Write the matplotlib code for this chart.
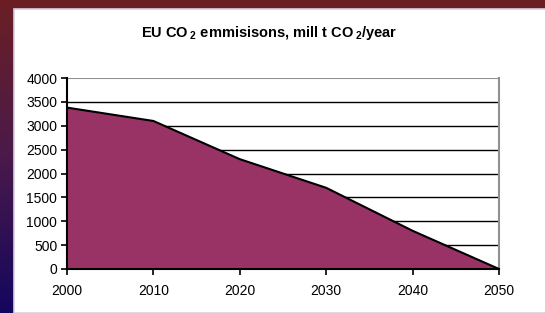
import numpy as np
import matplotlib.pyplot as plt
from matplotlib.colors import LinearSegmentedColormap
from matplotlib.patches import Rectangle

years = [2000, 2010, 2020, 2030, 2040, 2050]
emissions = [3380, 3100, 2300, 1700, 800, 0]
yticks = [0, 500, 1000, 1500, 2000, 2500, 3000, 3500, 4000]

plt.rcParams['font.family'] = ['Liberation Sans', 'DejaVu Sans']
plt.rcParams['mathtext.fontset'] = 'custom'
plt.rcParams['mathtext.default'] = 'regular'

fig = plt.figure(figsize=(5.45, 3.13), dpi=100)

# slide background gradient
bg = fig.add_axes([0, 0, 1, 1])
cmap = LinearSegmentedColormap.from_list('bg', ['#6b1f24', '#4a1a4a', '#14065e'])
bg.imshow(np.linspace(0, 1, 256).reshape(-1, 1), aspect='auto', cmap=cmap,
          extent=[0, 1, 0, 1], origin='upper')
bg.add_patch(Rectangle((13.5 / 545, 0), 1, 1 - 8.5 / 313, facecolor='white',
                       edgecolor='#d8d0e0', lw=1.2, transform=bg.transAxes))
bg.set_xlim(0, 1)
bg.set_ylim(0, 1)
bg.axis('off')

ax = fig.add_axes([67 / 545, 1 - 269 / 313, 432 / 545, 191 / 313])
ax.fill_between(years, emissions, 0, color='#993366', zorder=2)
ax.plot(years, emissions, color='black', lw=1.5, zorder=3)

ax.set_xlim(2000, 2050)
ax.set_ylim(0, 4000)
ax.set_xticks(years)
ax.set_yticks(yticks)
for v in yticks[1:-1]:
    ax.axhline(v, color='black', lw=1, zorder=1)
ax.axhline(4000, color='#909090', lw=1.5, zorder=1)

ax.spines['left'].set_color('black')
ax.spines['left'].set_linewidth(1.5)
ax.spines['bottom'].set_color('black')
ax.spines['bottom'].set_linewidth(1.5)
ax.spines['bottom'].set_zorder(4)
ax.spines['right'].set_color('#909090')
ax.spines['right'].set_linewidth(1.5)
ax.spines['top'].set_visible(False)
ax.tick_params(direction='out', length=4, width=1.2, labelsize=10, pad=3)
ax.tick_params(axis='x', pad=7)

fig.text(0.494, 1 - 33 / 313, r'EU CO$\,_{2}$ emmisisons, mill t CO$\,_{2}$/year',
         ha='center', va='center', fontsize=10.5, fontweight='bold')

fig.savefig('out.png', dpi=100)
